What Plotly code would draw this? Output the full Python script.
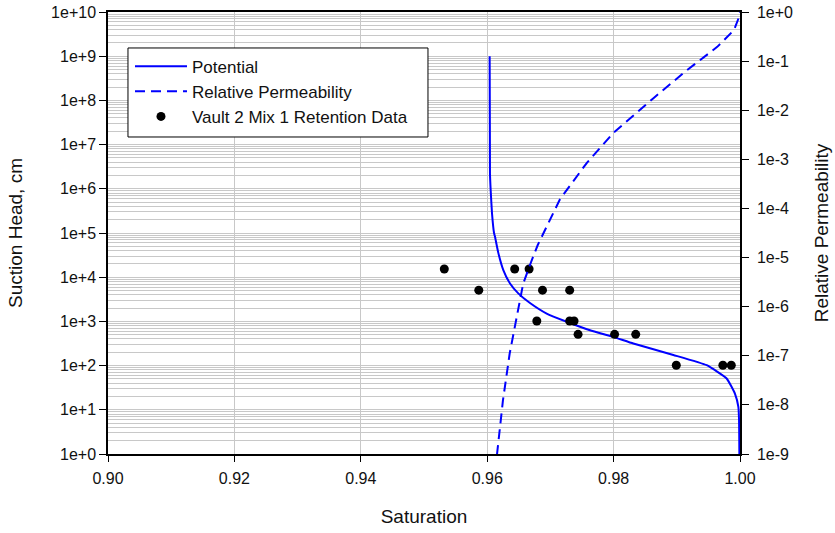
import plotly.graph_objects as go

# Potential (suction head vs saturation)
pot_sat = [0.96039, 0.96044, 0.96055, 0.96076, 0.96108, 0.96123, 0.96176, 0.96255,
           0.96361, 0.96492, 0.96677, 0.96941, 0.97258, 0.97627, 0.97995, 0.98312,
           0.98945, 0.99473, 0.99789, 0.99921, 0.99974, 0.99985, 0.99990]
pot_head = [1.0e9, 2.2e6, 9.3e5, 2.8e5, 1.0e5, 8.3e4, 3.55e4, 1.45e4,
            7.2e3, 4.3e3, 2.6e3, 1.5e3, 980, 630, 447, 316,
            174, 102, 51, 23, 11.7, 5.9, 1.0]

# Relative permeability vs saturation (right axis)
kr_sat = [0.96154, 0.96249, 0.96355, 0.96462, 0.96568, 0.96700, 0.96800, 0.96967,
          0.97153, 0.97577, 0.98000, 0.98635, 0.99164, 0.99640, 0.99905, 0.99985, 1.0]
kr_val = [9.5e-10, 1.23e-8, 1.1e-7, 6.0e-7, 2.9e-6, 8.5e-6, 1.8e-5, 5.0e-5,
          1.55e-4, 8.5e-4, 3.5e-3, 1.78e-2, 6.6e-2, 0.195, 0.43, 0.79, 1.0]

# Retention data
data_sat = [0.95321, 0.95867, 0.96435, 0.96663, 0.96875, 0.97305, 0.96785, 0.97305,
            0.97374, 0.97438, 0.98016, 0.98350, 0.98992, 0.99729, 0.99862]
data_head = [15300, 5100, 15300, 15300, 5100, 5100, 1020, 1020,
             1020, 510, 510, 510, 102, 102, 102]

left_tickvals = [1e0, 1e1, 1e2, 1e3, 1e4, 1e5, 1e6, 1e7, 1e8, 1e9, 1e10]
left_ticktext = ["1e+0", "1e+1", "1e+2", "1e+3", "1e+4", "1e+5", "1e+6", "1e+7", "1e+8", "1e+9", "1e+10"]
right_tickvals = [1e-9, 1e-8, 1e-7, 1e-6, 1e-5, 1e-4, 1e-3, 1e-2, 1e-1, 1e0]
right_ticktext = ["1e-9", "1e-8", "1e-7", "1e-6", "1e-5", "1e-4", "1e-3", "1e-2", "1e-1", "1e+0"]
x_tickvals = [0.90, 0.92, 0.94, 0.96, 0.98, 1.00]
x_ticktext = ["0.90", "0.92", "0.94", "0.96", "0.98", "1.00"]

FONT = "Liberation Sans, Arial, sans-serif"
GRID = "#c8c8c8"
TXT = "#111111"

fig = go.Figure()
fig.add_trace(go.Scatter(x=pot_sat, y=pot_head, mode="lines", name="Potential",
                         line=dict(color="#0000ff", width=2, shape="spline", smoothing=0.4)))
fig.add_trace(go.Scatter(x=kr_sat, y=kr_val, mode="lines", name="Relative Permeability",
                         line=dict(color="#0000ff", width=2, dash="10px,6px"), yaxis="y2"))
fig.add_trace(go.Scatter(x=data_sat, y=data_head, mode="markers", name="Vault 2 Mix 1 Retention Data",
                         marker=dict(color="black", size=9)))

# legend frame
fig.add_shape(type="rect", xref="paper", yref="paper", x0=0.0316, x1=0.5063, y0=0.7172, y1=0.9186,
              line=dict(color="black", width=1), fillcolor="white", layer="above")

fig.update_layout(
    width=835, height=533,
    margin=dict(l=108, r=95, t=12, b=79),
    paper_bgcolor="white", plot_bgcolor="white",
    font=dict(family=FONT, size=16, color=TXT),
    showlegend=True,
    legend=dict(x=0.0348, y=0.917, xanchor="left", yanchor="top",
                bgcolor="rgba(0,0,0,0)", borderwidth=0, itemwidth=52,
                font=dict(family=FONT, size=17, color=TXT),
                tracegroupgap=0),
    xaxis=dict(range=[0.90, 1.00], tickvals=x_tickvals, ticktext=x_ticktext,
               showgrid=True, gridcolor=GRID, gridwidth=1, automargin=False,
               showline=True, linecolor="black", linewidth=1.5, mirror=True,
               ticks="outside", ticklen=6, tickcolor="black", zeroline=False,
               ticklabelstandoff=3, ticklabeloverflow="allow",
               title=dict(text="Saturation", font=dict(size=19), standoff=24)),
    yaxis=dict(type="log", range=[0, 10], tickvals=left_tickvals, ticktext=left_ticktext,
               showgrid=True, gridcolor=GRID, gridwidth=1, automargin=False,
               minor=dict(dtick="D1", showgrid=True, gridcolor=GRID, gridwidth=1, ticks=""),
               showline=True, linecolor="black", linewidth=1.5,
               ticks="outside", ticklen=7, tickcolor="black", zeroline=False,
               ticklabelstandoff=0, ticklabeloverflow="allow",
               title=dict(text="Suction Head, cm", font=dict(size=19), standoff=23)),
    yaxis2=dict(type="log", range=[-9, 0], tickvals=right_tickvals, ticktext=right_ticktext,
                overlaying="y", side="right", showgrid=False, automargin=False,
                showline=True, linecolor="black", linewidth=1.5,
                ticks="outside", ticklen=7, tickcolor="black", zeroline=False,
                ticklabelstandoff=5, ticklabeloverflow="allow",
                title=dict(text="Relative Permeability", font=dict(size=19), standoff=23)),
)

fig.write_html("out.html", config={"displayModeBar": False},
               post_script="document.body.style.margin='0';document.body.style.padding='0';")
